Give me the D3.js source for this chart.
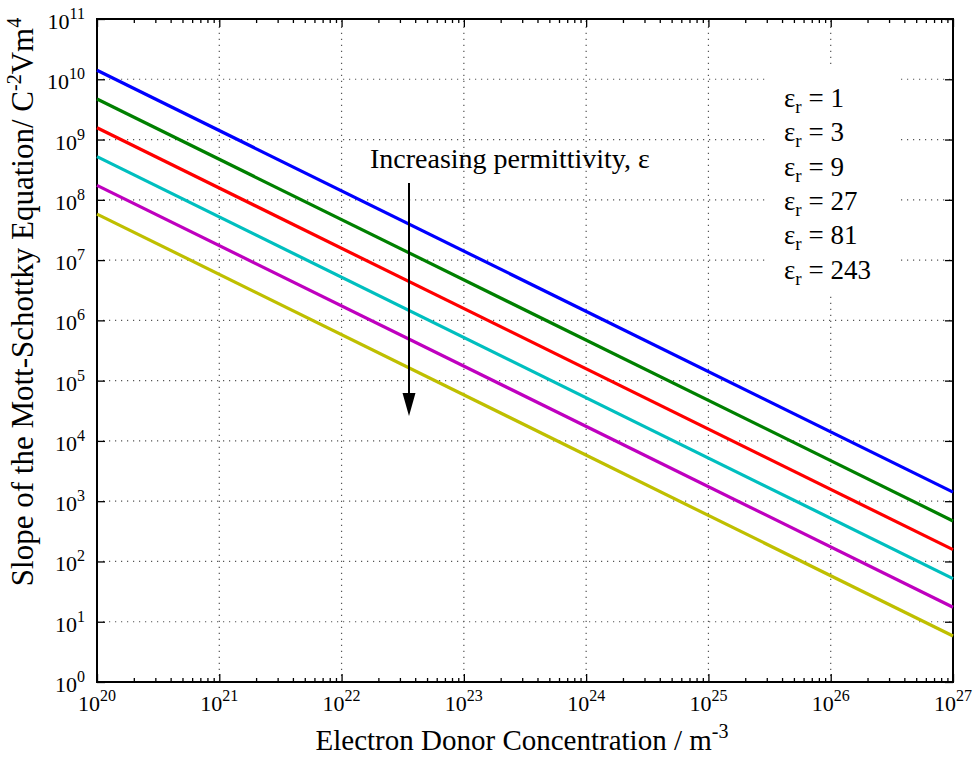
<!DOCTYPE html>
<html><head><meta charset="utf-8">
<script src="https://cdn.jsdelivr.net/npm/d3@7"></script>
<style>
html,body{margin:0;padding:0;background:#fff;}
svg text{font-family:"Liberation Serif","Times New Roman",serif;fill:#000;}
</style></head>
<body><svg id="chart" width="974" height="757"></svg>
<script>
// ---- data ----
const concentration = [1e20, 1e27];            // m^-3, x endpoints
const permittivity = [1, 3, 9, 27, 81, 243];   // relative permittivity
const slopeEr1   = [1.41e10, 1.41e3];
const slopeEr3   = [4.7e9, 4.7e2];
const slopeEr9   = [1.57e9, 1.57e2];
const slopeEr27  = [5.2e8, 5.2e1];
const slopeEr81  = [1.74e8, 1.74e1];
const slopeEr243 = [5.8e7, 5.8e0];
const seriesColors = ["#0000ff", "#008000", "#ff0000", "#00bfbf", "#bf00bf", "#bfbf00"];
const xTickExponents = [20, 21, 22, 23, 24, 25, 26, 27];
const yTickExponents = [0, 1, 2, 3, 4, 5, 6, 7, 8, 9, 10, 11];

const series = [slopeEr1, slopeEr3, slopeEr9, slopeEr27, slopeEr81, slopeEr243].map((v, i) => ({
  er: permittivity[i], color: seriesColors[i],
  pts: concentration.map((c, j) => [c, v[j]])
}));

// ---- layout ----
const L = 97, R = 953, T = 19, B = 682;
const svg = d3.select("#chart");
const x = d3.scaleLog().domain([1e20, 1e27]).range([L, R]);
const y = d3.scaleLog().domain([1e0, 1e11]).range([B, T]);

// grid
const grid = svg.append("g").attr("stroke", "#555").attr("stroke-width", 1.2)
  .attr("stroke-dasharray", "1.2,4.8").attr("fill", "none");
xTickExponents.slice(1, -1).forEach(e => {
  grid.append("line").attr("x1", x(10 ** e)).attr("x2", x(10 ** e)).attr("y1", B).attr("y2", T);
});
yTickExponents.slice(1, -1).forEach(e => {
  grid.append("line").attr("y1", y(10 ** e)).attr("y2", y(10 ** e)).attr("x1", L).attr("x2", R);
});

// legend background (covers grid)
svg.append("rect").attr("x", 768).attr("y", 68).attr("width", 133).attr("height", 227).attr("fill", "#fff");

// axes using d3 axis generators
const minorX = [];
for (let e = 20; e < 27; e++) for (let m = 2; m <= 9; m++) minorX.push(m * 10 ** e);
const majorX = xTickExponents.map(e => 10 ** e);
const majorY = yTickExponents.map(e => 10 ** e);

function styleAxis(g) {
  g.select(".domain").remove();
  g.selectAll(".tick line").attr("stroke", "#000").attr("stroke-width", 1.3);
  g.selectAll(".tick text").remove();
}
svg.append("g").attr("transform", `translate(0,${B})`)
  .call(d3.axisBottom(x).tickValues(majorX).tickSize(-8).tickFormat("")).call(styleAxis);
svg.append("g").attr("transform", `translate(0,${B})`)
  .call(d3.axisBottom(x).tickValues(minorX).tickSize(-4).tickFormat("")).call(styleAxis);
svg.append("g").attr("transform", `translate(0,${T})`)
  .call(d3.axisTop(x).tickValues(majorX).tickSize(-8).tickFormat("")).call(styleAxis);
svg.append("g").attr("transform", `translate(0,${T})`)
  .call(d3.axisTop(x).tickValues(minorX).tickSize(-4).tickFormat("")).call(styleAxis);
svg.append("g").attr("transform", `translate(${L},0)`)
  .call(d3.axisLeft(y).tickValues(majorY).tickSize(-8).tickFormat("")).call(styleAxis);
svg.append("g").attr("transform", `translate(${R},0)`)
  .call(d3.axisRight(y).tickValues(majorY).tickSize(-8).tickFormat("")).call(styleAxis);

// tick labels
xTickExponents.forEach(e => {
  const t = svg.append("text").attr("x", x(10 ** e)).attr("y", 711).attr("text-anchor", "middle").attr("font-size", 22);
  t.append("tspan").text("10");
  t.append("tspan").attr("font-size", 16).attr("dy", -10).text(e);
});
yTickExponents.forEach(e => {
  const t = svg.append("text").attr("x", 85).attr("y", y(10 ** e) + 10).attr("text-anchor", "end").attr("font-size", 22);
  t.append("tspan").text("10");
  t.append("tspan").attr("font-size", 16).attr("dy", -10).text(e);
});

// frame
svg.append("rect").attr("x", L).attr("y", T).attr("width", R - L).attr("height", B - T)
  .attr("fill", "none").attr("stroke", "#000").attr("stroke-width", 2);

// data lines
const line = d3.line().x(d => x(d[0])).y(d => y(d[1]));
svg.append("g").selectAll("path").data(series).join("path")
  .attr("d", d => line(d.pts)).attr("fill", "none")
  .attr("stroke", d => d.color).attr("stroke-width", 3.2);

// legend text
series.forEach((s, i) => {
  const t = svg.append("text").attr("x", 784).attr("y", 107 + i * 34.3).attr("font-size", 27);
  t.append("tspan").text("ε");
  t.append("tspan").attr("font-size", 19).attr("dy", 6).text("r");
  t.append("tspan").attr("dy", -6).text(" = " + s.er);
});

// annotation
svg.append("text").attr("x", 370).attr("y", 168).attr("font-size", 28).text("Increasing permittivity, ε");
svg.append("line").attr("x1", 409).attr("x2", 409).attr("y1", 183).attr("y2", 396)
  .attr("stroke", "#000").attr("stroke-width", 2);
svg.append("path").attr("d", "M402.5,393 L415.5,393 L409,416 Z").attr("fill", "#000");

// axis titles
const xt = svg.append("text").attr("x", 522).attr("y", 750).attr("text-anchor", "middle").attr("font-size", 29);
xt.append("tspan").text("Electron Donor Concentration / m");
xt.append("tspan").attr("font-size", 20).attr("dy", -12).text("-3");

const yt = svg.append("text").attr("transform", "translate(33,302) rotate(-90)")
  .attr("text-anchor", "middle").attr("font-size", 31);
yt.append("tspan").text("Slope of the Mott-Schottky Equation/ C");
yt.append("tspan").attr("font-size", 20).attr("dy", -12).text("-2");
yt.append("tspan").attr("dy", 12).text("Vm");
yt.append("tspan").attr("font-size", 20).attr("dy", -12).text("4");
</script></body></html>
